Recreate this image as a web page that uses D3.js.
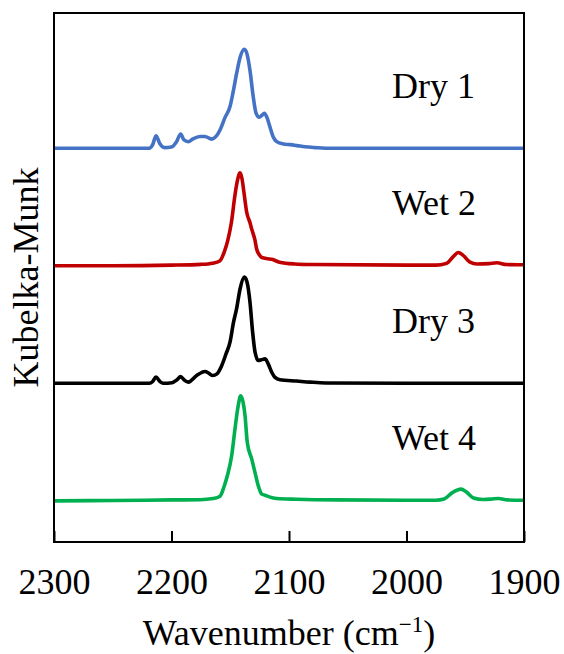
<!DOCTYPE html>
<html>
<head>
<meta charset="utf-8">
<script src="https://cdn.jsdelivr.net/npm/d3@7"></script>
<style>
  html, body { margin: 0; padding: 0; background: #fff; }
  svg { display: block; }
  text { font-family: "Liberation Serif", "Times New Roman", serif; fill: #000; }
</style>
</head>
<body>
<svg id="chart" width="564" height="654"></svg>
<script>
// ---- data (wavenumber cm^-1, Kubelka-Munk, before offset) ----
const seriesNames = ["Dry 1", "Wet 2", "Dry 3", "Wet 4"];
const seriesColors = ["#4472C4", "#C00000", "#000000", "#00B050"];
const seriesOffsets = [3, 2, 1, 0];
const xTicks = [2300, 2200, 2100, 2000, 1900];

const dry1 = [
  [2300,0],[2250,0],[2219,0],[2216,0.03],[2213.2,0.105],[2210,0.04],[2206,0.005],[2200,0.01],
  [2196,0.05],[2192.2,0.12],[2189.4,0.07],[2185.7,0.055],[2181.7,0.08],[2175.7,0.1],[2171.5,0.1],
  [2165.8,0.077],[2162.1,0.1],[2158.7,0.155],[2154.5,0.26],[2150.2,0.354],[2147.7,0.47],
  [2144.5,0.64],[2141.7,0.77],[2138.0,0.842],[2135.7,0.8],[2133.2,0.66],[2130.6,0.45],
  [2128.1,0.3],[2125.3,0.263],[2123.0,0.28],[2121.0,0.297],[2118.7,0.26],[2116.2,0.18],
  [2113.6,0.1],[2110.5,0.056],[2104.9,0.036],[2099.1,0.03],[2093.2,0.022],[2086.4,0.012],
  [2077.9,0.005],[2069,0],[2000,0],[1950,0],[1900,0]
];
const wet2 = [
  [2300,0],[2250,0],[2200,0.005],[2175,0.012],[2165,0.022],[2159,0.04],[2155,0.12],[2152,0.22],
  [2149,0.37],[2146,0.6],[2144,0.72],[2141.7,0.79],[2140,0.74],[2138.3,0.62],[2136,0.455],
  [2133,0.36],[2131.7,0.31],[2129,0.22],[2127.5,0.14],[2125,0.09],[2123,0.07],[2118,0.06],
  [2114.7,0.055],[2108,0.03],[2095,0.015],[2080,0.01],[2000,0.005],[1975,0.005],[1966,0.02],
  [1960,0.08],[1956,0.113],[1952,0.09],[1946,0.03],[1940,0.015],[1930,0.018],[1923,0.025],
  [1915,0.01],[1900,0.008]
];
const dry3 = [
  [2300,0],[2250,0],[2219,0],[2216,0.015],[2213.2,0.053],[2209.8,0.015],[2207,0],[2199.6,0.005],
  [2195.3,0.03],[2192.2,0.058],[2189.4,0.03],[2185.7,0.01],[2178.6,0.066],[2171.5,0.1],
  [2168.1,0.085],[2165,0.066],[2161.3,0.08],[2157.3,0.15],[2153.6,0.25],[2150.2,0.35],
  [2147.2,0.52],[2144.5,0.64],[2141.7,0.8],[2138,0.903],[2135.7,0.86],[2133.2,0.69],
  [2131.1,0.45],[2128.9,0.265],[2126.1,0.194],[2123.4,0.2],[2120.4,0.208],[2117.9,0.17],
  [2114.7,0.094],[2111.9,0.05],[2107.7,0.03],[2093.4,0.019],[2082,0.01],[2069,0.003],
  [2000,0],[1950,0],[1900,0]
];
const wet4 = [
  [2300,0],[2250,0.003],[2200,0.008],[2175.7,0.01],[2164.7,0.02],[2158.7,0.04],[2155.3,0.12],
  [2152.5,0.213],[2148.8,0.383],[2146,0.61],[2143.4,0.8],[2141.1,0.893],[2139.1,0.84],
  [2137.4,0.723],[2135.5,0.496],[2131.7,0.355],[2128.9,0.24],[2126.1,0.127],[2123.4,0.06],
  [2120.4,0.048],[2110.5,0.02],[2093.4,0.014],[2060,0.008],[2000,0.005],[1975,0.005],
  [1968,0.015],[1961,0.07],[1953.6,0.1],[1949,0.075],[1943,0.025],[1935,0.012],[1928,0.015],
  [1921.8,0.02],[1914,0.008],[1900,0.005]
];
const allSeries = [dry1, wet2, dry3, wet4];

// ---- layout ----
const svg = d3.select("#chart");
const mL = 54, mR = 524, mT = 13, mB = 542;

const x = d3.scaleLinear().domain([2300, 1900]).range([mL, mR]);
const y = d3.scaleLinear().domain([-0.35, 4.15]).range([mB, mT]);

// series
const line = d3.line()
  .x(d => x(d[0]))
  .y(d => y(d[1]))
  .curve(d3.curveMonotoneX);

allSeries.forEach((s, i) => {
  const off = seriesOffsets[i];
  svg.append("path")
    .datum(s.map(p => [p[0], p[1] + off]))
    .attr("d", line)
    .attr("fill", "none")
    .attr("stroke", seriesColors[i])
    .attr("stroke-width", 3.6)
    .attr("stroke-linejoin", "round")
    .attr("stroke-linecap", "butt");
});

// frame
svg.append("rect")
  .attr("x", mL).attr("y", mT)
  .attr("width", mR - mL).attr("height", mB - mT)
  .attr("fill", "none").attr("stroke", "#000").attr("stroke-width", 2);

// x axis (inward ticks)
const xAxis = d3.axisBottom(x)
  .tickValues(xTicks)
  .tickSizeInner(-11)
  .tickSizeOuter(0)
  .tickPadding(0)
  .tickFormat(d3.format("d"));
const gx = svg.append("g").attr("transform", `translate(0,${mB})`).call(xAxis);
gx.select(".domain").remove();
gx.selectAll(".tick line").attr("stroke", "#000").attr("stroke-width", 2);
gx.selectAll(".tick text")
  .attr("y", 52).attr("dy", null)
  .attr("font-size", 36)
  .style("font-family", "'Liberation Serif', 'Times New Roman', serif")
  .attr("fill", "#000");

// series labels
const labelYs = [3.65, 2.65, 1.65, 0.65];
seriesNames.forEach((name, i) => {
  svg.append("text")
    .attr("x", 392)
    .attr("y", y(labelYs[i]) + 26)
    .attr("font-size", 36)
    .text(name);
});

// axis titles
const xt = svg.append("text")
  .attr("x", (mL + mR) / 2)
  .attr("y", 645)
  .attr("text-anchor", "middle")
  .attr("font-size", 36);
xt.append("tspan").text("Wavenumber (cm");
xt.append("tspan").attr("dy", -13).attr("font-size", 23).text("\u22121");
xt.append("tspan").attr("dy", 13).text(")");

svg.append("text")
  .attr("transform", `translate(38,${(mT + mB) / 2}) rotate(-90)`)
  .attr("text-anchor", "middle")
  .attr("font-size", 36)
  .text("Kubelka-Munk");
</script>
</body>
</html>
